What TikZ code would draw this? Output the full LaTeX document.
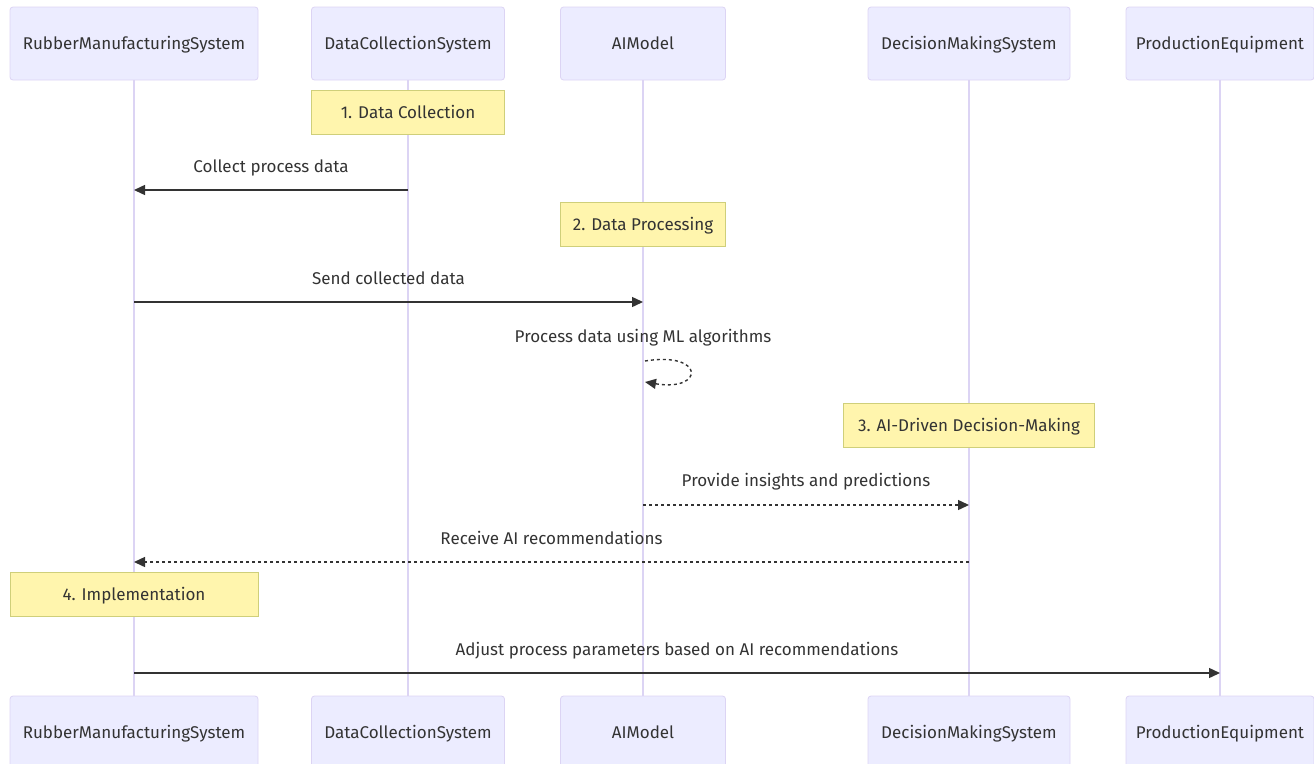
\documentclass[tikz,border=0pt]{standalone}
\usepackage{fontspec}
\setmainfont{Fira Sans}
\usepackage{xcolor}
\usepackage{tikz}
\usetikzlibrary{arrows.meta}

\definecolor{actorFill}{HTML}{ECECFF}
\definecolor{actorLine}{HTML}{DCD4F4}
\definecolor{noteFill}{HTML}{FFF5AD}
\definecolor{noteLine}{HTML}{CFCF7A}
\definecolor{msgGray}{HTML}{333333}

\begin{document}
\begin{tikzpicture}[
        x=1pt, y=-1pt,
        actor/.style={rectangle, draw=actorLine, fill=actorFill, line width=0.8pt, minimum height=73pt, text centered, font=\fontsize{17}{20}\selectfont, text=msgGray, text height=14pt, text depth=1.5pt, rounded corners=3pt, inner sep=0pt},
        note/.style={rectangle, draw=noteLine, fill=noteFill, line width=0.8pt, minimum height=44pt, text centered, font=\fontsize{17}{20}\selectfont, text=msgGray, text height=14pt, text depth=1.5pt, inner sep=0pt},
        lifeline/.style={draw=actorLine, line width=1.2pt},
        msgText/.style={font=\fontsize{17}{20}\selectfont, text=msgGray, text height=14pt, text depth=1.5pt, inner sep=0pt},
        solidMsg/.style={-{Triangle[length=11pt, width=10pt]}, draw=msgGray, line width=1.4pt},
        replyMsg/.style={-{Triangle[length=11pt, width=10pt]}, draw=msgGray, line width=1.4pt, dash pattern=on 3pt off 3pt}
    ]
        \useasboundingbox (0,0) rectangle (1314,763);

        % ========== ACTORS (Top Row) ==========
        \node[actor, minimum width=248pt] (rmsTop) at (134,43.5) {RubberManufacturingSystem};
        \node[actor, minimum width=193pt] (dcsTop) at (408,43.5) {DataCollectionSystem};
        \node[actor, minimum width=165pt] (aiTop) at (643,43.5) {AIModel};
        \node[actor, minimum width=202pt] (dmsTop) at (969,43.5) {DecisionMakingSystem};
        \node[actor, minimum width=188pt] (peTop) at (1220,43.5) {ProductionEquipment};

        % ========== ACTORS (Bottom Row) ==========
        \node[actor, minimum width=248pt] (rmsBot) at (134,732.5) {RubberManufacturingSystem};
        \node[actor, minimum width=193pt] (dcsBot) at (408,732.5) {DataCollectionSystem};
        \node[actor, minimum width=165pt] (aiBot) at (643,732.5) {AIModel};
        \node[actor, minimum width=202pt] (dmsBot) at (969,732.5) {DecisionMakingSystem};
        \node[actor, minimum width=188pt] (peBot) at (1220,732.5) {ProductionEquipment};

        % ========== LIFELINES ==========
        \draw[lifeline] (rmsTop.south) -- (rmsBot.north);
        \draw[lifeline] (dcsTop.south) -- (dcsBot.north);
        \draw[lifeline] (aiTop.south) -- (aiBot.north);
        \draw[lifeline] (dmsTop.south) -- (dmsBot.north);
        \draw[lifeline] (peTop.south) -- (peBot.north);

        % ========== NOTES ==========
        \node[note, minimum width=193pt] (noteCollect) at (408,112) {1. Data Collection};
        \node[note, minimum width=165pt] (noteProcess) at (643,224.5) {2. Data Processing};
        \node[note, minimum width=251pt] (noteDecide) at (969,425.5) {3. AI-Driven Decision-Making};
        \node[note, minimum width=248pt] (noteImpl) at (134,594.5) {4. Implementation};

        % ========== MESSAGE END POINTS ==========
        \coordinate (collectFrom) at (dcsTop |- 0,190);
        \coordinate (collectTo) at (rmsTop |- 0,190);
        \coordinate (sendFrom) at (rmsTop |- 0,302);
        \coordinate (sendTo) at (aiTop |- 0,302);
        \coordinate (loopFrom) at (645,361);
        \coordinate (loopTo) at (645,382);
        \coordinate (insightFrom) at (aiTop |- 0,505);
        \coordinate (insightTo) at (dmsTop |- 0,505);
        \coordinate (recvFrom) at (dmsTop |- 0,562);
        \coordinate (recvTo) at (rmsTop |- 0,562);
        \coordinate (adjustFrom) at (rmsTop |- 0,673);
        \coordinate (adjustTo) at (peTop |- 0,673);

        % ========== MESSAGES ==========
        \draw[solidMsg] (collectFrom) -- node[msgText, yshift=24pt] (collectLbl) {Collect process data} (collectTo);
        \draw[solidMsg] (sendFrom) -- node[msgText, yshift=24pt] (sendLbl) {Send collected data} (sendTo);
        \node[msgText] (loopLbl) at (643,336) {Process data using ML algorithms};
        \draw[replyMsg] (loopFrom) .. controls (705,351) and (705,392) .. (loopTo);
        \draw[replyMsg] (insightFrom) -- node[msgText, yshift=25pt] (insightLbl) {Provide insights and predictions} (insightTo);
        \draw[replyMsg] (recvFrom) -- node[msgText, yshift=24pt] (recvLbl) {Receive AI recommendations} (recvTo);
        \draw[solidMsg] (adjustFrom) -- node[msgText, yshift=24pt] (adjustLbl) {Adjust process parameters based on AI recommendations} (adjustTo);

    \end{tikzpicture}
\end{document}
